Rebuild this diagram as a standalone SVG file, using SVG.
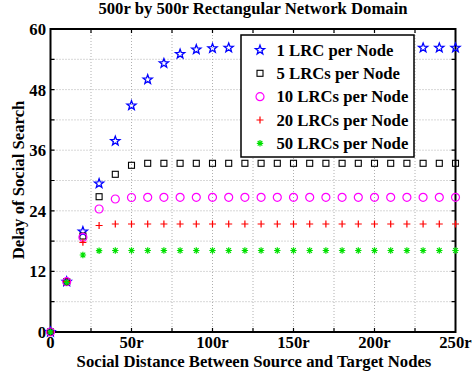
<svg xmlns="http://www.w3.org/2000/svg" width="475" height="375" viewBox="0 0 475 375" font-family="'Liberation Serif','Times New Roman',serif">
<style>
text{font-family:"Liberation Serif","Times New Roman",serif;font-weight:bold;font-size:16.7px;fill:#000}
.grid{stroke:#b0b0b0;stroke-width:1;stroke-dasharray:1,2;fill:none}
.tick{stroke:#000;stroke-width:1.2;fill:none}
.st{fill:none;stroke:#0000ff;stroke-width:1.3}
.sq{fill:none;stroke:#000;stroke-width:1.1}
.ci{fill:none;stroke:#ff00ff;stroke-width:1.2}
.pl{fill:none;stroke:#ff0000;stroke-width:1.2}
.as{fill:none;stroke:#00e000;stroke-width:1.2}
</style>
<defs>
<path id="star" d="M0,-4.8L1.18,-1.62L4.57,-1.48L1.9,0.62L2.82,3.88L0,2L-2.82,3.88L-1.9,0.62L-4.57,-1.48L-1.18,-1.62Z"/>
<rect id="sqr" x="-3" y="-3" width="6" height="6"/>
<circle id="cir" r="4"/>
<path id="plus" d="M-3.5,0H3.5M0,-3.5V3.5"/>
<path id="ast" d="M-3.2,0H3.2M0,-3.2V3.2M-2.3,-2.3L2.3,2.3M-2.3,2.3L2.3,-2.3"/>
</defs>
<rect width="475" height="375" fill="#fff"/>
<text x="253" y="13.5" text-anchor="middle">500r by 500r Rectangular Network Domain</text>
<g id="grid" class="grid">
<path d="M91,29V332M131.5,29V332M172,29V332M212.5,29V332M253,29V332M293.5,29V332M334,29V332M374.5,29V332M415,29V332"/>
<path d="M50.5,301.7H455.5M50.5,271.4H455.5M50.5,241.1H455.5M50.5,210.8H455.5M50.5,180.5H455.5M50.5,150.2H455.5M50.5,119.9H455.5M50.5,89.6H455.5M50.5,59.3H455.5"/>
</g>
<g id="ticks" class="tick">
<path d="M91,332v-4M131.5,332v-4M172,332v-4M212.5,332v-4M253,332v-4M293.5,332v-4M334,332v-4M374.5,332v-4M415,332v-4"/>
<path d="M91,29v4M131.5,29v4M172,29v4M212.5,29v4M253,29v4M293.5,29v4M334,29v4M374.5,29v4M415,29v4"/>
<path d="M50.5,301.7h4M50.5,271.4h4M50.5,241.1h4M50.5,210.8h4M50.5,180.5h4M50.5,150.2h4M50.5,119.9h4M50.5,89.6h4M50.5,59.3h4"/>
<path d="M455.5,301.7h-4M455.5,271.4h-4M455.5,241.1h-4M455.5,210.8h-4M455.5,180.5h-4M455.5,150.2h-4M455.5,119.9h-4M455.5,89.6h-4M455.5,59.3h-4"/>
</g>
<rect id="axes" x="50.5" y="29" width="405" height="303" fill="none" stroke="#000" stroke-width="2"/>
<g id="xlabels" text-anchor="middle">
<text x="50.5" y="347.5">0</text>
<text x="131.5" y="347.5">50r</text>
<text x="212.5" y="347.5">100r</text>
<text x="293.5" y="347.5">150r</text>
<text x="374.5" y="347.5">200r</text>
<text x="455.5" y="347.5">250r</text>
</g>
<g id="ylabels" text-anchor="end">
<text x="46" y="338">0</text>
<text x="46" y="277.4">12</text>
<text x="46" y="216.8">24</text>
<text x="46" y="156.2">36</text>
<text x="46" y="95.6">48</text>
<text x="46" y="35">60</text>
</g>
<text x="254" y="366.5" text-anchor="middle">Social Distance Between Source and Target Nodes</text>
<text transform="translate(24,180) rotate(-90)" text-anchor="middle">Delay of Social Search</text>
<g id="series1" class="st">
<use href="#star" x="50.5" y="332"/><use href="#star" x="66.7" y="281.7"/><use href="#star" x="82.9" y="231.5"/><use href="#star" x="99.1" y="183.5"/><use href="#star" x="115.3" y="141"/><use href="#star" x="131.5" y="105.5"/><use href="#star" x="147.7" y="79.5"/><use href="#star" x="163.9" y="63.3"/><use href="#star" x="180.1" y="54"/><use href="#star" x="196.3" y="49.5"/><use href="#star" x="212.5" y="48.3"/><use href="#star" x="228.7" y="47.8"/><use href="#star" x="423.1" y="47.8"/><use href="#star" x="439.3" y="47.8"/><use href="#star" x="455.5" y="47.8"/>
</g>
<g id="series2" class="sq">
<use href="#sqr" x="50.5" y="332"/><use href="#sqr" x="66.7" y="281.7"/><use href="#sqr" x="82.9" y="236"/><use href="#sqr" x="99.1" y="196.7"/><use href="#sqr" x="115.3" y="174.3"/><use href="#sqr" x="131.5" y="165.3"/><use href="#sqr" x="147.7" y="163.3"/><use href="#sqr" x="163.9" y="163.3"/><use href="#sqr" x="180.1" y="163.3"/><use href="#sqr" x="196.3" y="163.3"/><use href="#sqr" x="212.5" y="163.3"/><use href="#sqr" x="228.7" y="163.3"/><use href="#sqr" x="244.9" y="163.3"/><use href="#sqr" x="261.1" y="163.3"/><use href="#sqr" x="277.3" y="163.3"/><use href="#sqr" x="293.5" y="163.3"/><use href="#sqr" x="309.7" y="163.3"/><use href="#sqr" x="325.9" y="163.3"/><use href="#sqr" x="342.1" y="163.3"/><use href="#sqr" x="358.3" y="163.3"/><use href="#sqr" x="374.5" y="163.3"/><use href="#sqr" x="390.7" y="163.3"/><use href="#sqr" x="406.9" y="163.3"/><use href="#sqr" x="423.1" y="163.3"/><use href="#sqr" x="439.3" y="163.3"/><use href="#sqr" x="455.5" y="163.3"/>
</g>
<g id="series3" class="ci">
<use href="#cir" x="50.5" y="332"/><use href="#cir" x="66.7" y="281.7"/><use href="#cir" x="82.9" y="237.3"/><use href="#cir" x="99.1" y="209"/><use href="#cir" x="115.3" y="199"/><use href="#cir" x="131.5" y="197.5"/><use href="#cir" x="147.7" y="197.3"/><use href="#cir" x="163.9" y="197.3"/><use href="#cir" x="180.1" y="197.3"/><use href="#cir" x="196.3" y="197.3"/><use href="#cir" x="212.5" y="197.3"/><use href="#cir" x="228.7" y="197.3"/><use href="#cir" x="244.9" y="197.3"/><use href="#cir" x="261.1" y="197.3"/><use href="#cir" x="277.3" y="197.3"/><use href="#cir" x="293.5" y="197.3"/><use href="#cir" x="309.7" y="197.3"/><use href="#cir" x="325.9" y="197.3"/><use href="#cir" x="342.1" y="197.3"/><use href="#cir" x="358.3" y="197.3"/><use href="#cir" x="374.5" y="197.3"/><use href="#cir" x="390.7" y="197.3"/><use href="#cir" x="406.9" y="197.3"/><use href="#cir" x="423.1" y="197.3"/><use href="#cir" x="439.3" y="197.3"/><use href="#cir" x="455.5" y="197.3"/>
</g>
<g id="series4" class="pl">
<use href="#plus" x="50.5" y="332"/><use href="#plus" x="66.7" y="281.7"/><use href="#plus" x="82.9" y="242.3"/><use href="#plus" x="99.1" y="225.5"/><use href="#plus" x="115.3" y="224"/><use href="#plus" x="131.5" y="224"/><use href="#plus" x="147.7" y="224"/><use href="#plus" x="163.9" y="224"/><use href="#plus" x="180.1" y="224"/><use href="#plus" x="196.3" y="224"/><use href="#plus" x="212.5" y="224"/><use href="#plus" x="228.7" y="224"/><use href="#plus" x="244.9" y="224"/><use href="#plus" x="261.1" y="224"/><use href="#plus" x="277.3" y="224"/><use href="#plus" x="293.5" y="224"/><use href="#plus" x="309.7" y="224"/><use href="#plus" x="325.9" y="224"/><use href="#plus" x="342.1" y="224"/><use href="#plus" x="358.3" y="224"/><use href="#plus" x="374.5" y="224"/><use href="#plus" x="390.7" y="224"/><use href="#plus" x="406.9" y="224"/><use href="#plus" x="423.1" y="224"/><use href="#plus" x="439.3" y="224"/><use href="#plus" x="455.5" y="224"/>
</g>
<g id="series5" class="as">
<use href="#ast" x="50.5" y="332"/><use href="#ast" x="66.7" y="282.5"/><use href="#ast" x="82.9" y="255"/><use href="#ast" x="99.1" y="250.7"/><use href="#ast" x="115.3" y="250.5"/><use href="#ast" x="131.5" y="250.5"/><use href="#ast" x="147.7" y="250.5"/><use href="#ast" x="163.9" y="250.5"/><use href="#ast" x="180.1" y="250.5"/><use href="#ast" x="196.3" y="250.5"/><use href="#ast" x="212.5" y="250.5"/><use href="#ast" x="228.7" y="250.5"/><use href="#ast" x="244.9" y="250.5"/><use href="#ast" x="261.1" y="250.5"/><use href="#ast" x="277.3" y="250.5"/><use href="#ast" x="293.5" y="250.5"/><use href="#ast" x="309.7" y="250.5"/><use href="#ast" x="325.9" y="250.5"/><use href="#ast" x="342.1" y="250.5"/><use href="#ast" x="358.3" y="250.5"/><use href="#ast" x="374.5" y="250.5"/><use href="#ast" x="390.7" y="250.5"/><use href="#ast" x="406.9" y="250.5"/><use href="#ast" x="423.1" y="250.5"/><use href="#ast" x="439.3" y="250.5"/><use href="#ast" x="455.5" y="250.5"/>
</g>
<g id="legend">
<rect x="241" y="35" width="173" height="122" fill="#fff" stroke="#000" stroke-width="1.5"/>
<use href="#star" x="260" y="50" class="st"/>
<use href="#sqr" x="260" y="73.3" class="sq"/>
<use href="#cir" x="260" y="96.7" class="ci"/>
<use href="#plus" x="260" y="120" class="pl"/>
<use href="#ast" x="260" y="143.3" class="as"/>
<text x="276.5" y="55.5">1 LRC per Node</text>
<text x="276.5" y="78.8">5 LRCs per Node</text>
<text x="276.5" y="102.2">10 LRCs per Node</text>
<text x="276.5" y="125.5">20 LRCs per Node</text>
<text x="276.5" y="148.8">50 LRCs per Node</text>
</g>
</svg>
